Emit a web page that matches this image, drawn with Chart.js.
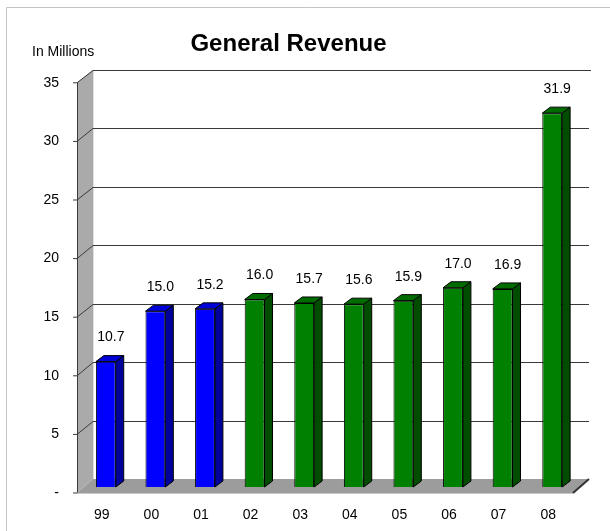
<!DOCTYPE html>
<html lang="en">
<head>
  <meta charset="UTF-8">
  <title>General Revenue</title>
  <script src="https://cdn.jsdelivr.net/npm/chart.js"></script>
  <style>
    body { margin: 0; background: #fff; }
    canvas { display: block; }
  </style>
</head>
<body>
  <canvas id="revChart" width="610" height="531"></canvas>

  <script>
    // data
    const years = ['99', '00', '01', '02', '03', '04', '05', '06', '07', '08'];
    const revenue = [10.7, 15.0, 15.2, 16.0, 15.7, 15.6, 15.9, 17.0, 16.9, 31.9];
    const yTicks = [0, 5, 10, 15, 20, 25, 30, 35];

    // first three years blue, the rest green
    const fronts = years.map((y, i) => i < 3 ? '#0000ff' : '#008000');
    const sides = years.map((y, i) => i < 3 ? '#00009a' : '#004c00');
    const tops = years.map((y, i) => i < 3 ? '#0000d8' : '#006c00');

    const FONT = "'Liberation Sans', Arial, sans-serif";

    // 3d look: walls, floor, grid, bar sides, value labels
    const box3d = {
      id: 'box3d',
      beforeDraw(chart) {
        const c = chart.ctx;
        c.save();
        c.strokeStyle = '#c4c4c4';
        c.lineWidth = 1;
        c.beginPath();
        c.moveTo(6.5, 531);
        c.lineTo(6.5, 7.5);
        c.lineTo(610, 7.5);
        c.stroke();
        c.fillStyle = '#000';
        c.font = '14px ' + FONT;
        c.textBaseline = 'middle';
        c.textAlign = 'left';
        c.fillText('In Millions', 32, 52);
        c.restore();
      },
      beforeDatasetsDraw(chart) {
        const c = chart.ctx;
        const y = chart.scales.y;
        const back = v => y.getPixelForValue(v) - 8 + v * 0.03;
        const front = v => y.getPixelForValue(v) + 6;
        const fx = 77, bx = 93, bRight = 589, fRight = 573;
        c.save();
        // side wall
        c.fillStyle = '#aaaaaa';
        c.beginPath();
        c.moveTo(fx, front(35));
        c.lineTo(bx, back(35));
        c.lineTo(bx, back(0));
        c.lineTo(fx, front(0));
        c.closePath();
        c.fill();
        c.strokeStyle = '#e0e0e0';
        c.beginPath();
        c.moveTo(bx + 0.5, back(35));
        c.lineTo(bx + 0.5, back(0));
        c.stroke();
        // grid lines
        c.strokeStyle = '#3a3a3a';
        c.lineWidth = 1;
        yTicks.forEach(v => {
          if (v === 0) return;
          const by = Math.round(back(v)) + 0.5;
          c.beginPath();
          c.moveTo(fx - 4, front(v));
          c.lineTo(fx, front(v));
          c.lineTo(bx, by);
          c.lineTo(v === 35 ? bRight + 2 : bRight, by);
          c.stroke();
        });
        // front axis line
        c.beginPath();
        c.moveTo(fx + 0.5, front(35));
        c.lineTo(fx + 0.5, front(0));
        c.lineTo(fx - 4, front(0));
        c.stroke();
        // floor
        c.fillStyle = '#9c9c9c';
        c.beginPath();
        c.moveTo(fx, front(0));
        c.lineTo(bx, back(0));
        c.lineTo(bRight, back(0));
        c.lineTo(fRight, front(0));
        c.closePath();
        c.fill();
        c.strokeStyle = '#c8c8c8';
        c.beginPath();
        c.moveTo(fx, front(0) + 0.5);
        c.lineTo(fRight, front(0) + 0.5);
        c.stroke();
        c.strokeStyle = '#333';
        c.lineWidth = 2;
        c.beginPath();
        c.moveTo(fRight, front(0));
        c.lineTo(bRight, back(0));
        c.stroke();
        c.restore();
      },
      afterDatasetsDraw(chart) {
        const c = chart.ctx;
        const meta = chart.getDatasetMeta(0);
        const dx = 8, dy = -6;
        c.save();
        c.lineWidth = 1;
        c.strokeStyle = '#000';
        meta.data.forEach((bar, i) => {
          const l = bar.x - bar.width / 2, r = bar.x + bar.width / 2;
          const t = bar.y, b = bar.base;
          // side
          c.fillStyle = sides[i];
          c.beginPath();
          c.moveTo(r, t);
          c.lineTo(r + dx, t + dy);
          c.lineTo(r + dx, b + dy);
          c.lineTo(r, b);
          c.closePath();
          c.fill();
          c.stroke();
          // top
          c.fillStyle = tops[i];
          c.beginPath();
          c.moveTo(l, t);
          c.lineTo(l + dx, t + dy);
          c.lineTo(r + dx, t + dy);
          c.lineTo(r, t);
          c.closePath();
          c.fill();
          c.stroke();
          // value label
          c.fillStyle = '#000';
          c.font = '14px ' + FONT;
          c.textAlign = 'center';
          c.textBaseline = 'middle';
          c.fillText(revenue[i].toFixed(1), bar.x + 5, t - 24);
        });
        c.restore();
      }
    };

    const ctx = document.getElementById('revChart').getContext('2d');
    const chart = new Chart(ctx, {
      type: 'bar',
      data: {
        labels: years,
        datasets: [{
          data: revenue,
          backgroundColor: fronts,
          borderColor: '#000',
          borderWidth: 1,
          barPercentage: 0.4,
          categoryPercentage: 1.0
        }]
      },
      options: {
        responsive: false,
        animation: false,
        devicePixelRatio: 1,
        layout: { padding: { left: 0, right: 33, top: 0, bottom: 0 } },
        plugins: {
          legend: { display: false },
          tooltip: { enabled: false },
          title: {
            display: true,
            text: 'General Revenue',
            color: '#000',
            font: { family: FONT, size: 24, weight: 'bold', lineHeight: 1.2 },
            padding: { top: 30, bottom: 18 }
          }
        },
        scales: {
          x: {
            grid: { display: false, drawTicks: false },
            border: { display: false },
            ticks: {
              color: '#000',
              font: { family: FONT, size: 14 },
              padding: 20,
              labelOffset: -4
            },
            afterFit(s) { s.height = 44; }
          },
          y: {
            min: 0,
            max: 35,
            grid: { display: false, drawTicks: false },
            border: { display: false },
            ticks: {
              stepSize: 5,
              color: '#000',
              font: { family: FONT, size: 14 },
              padding: 22,
              labelOffset: 6,
              callback: v => v === 0 ? '-' : v
            },
            afterFit(s) { s.width = 81; }
          }
        }
      },
      plugins: [box3d]
    });
  </script>
</body>
</html>
